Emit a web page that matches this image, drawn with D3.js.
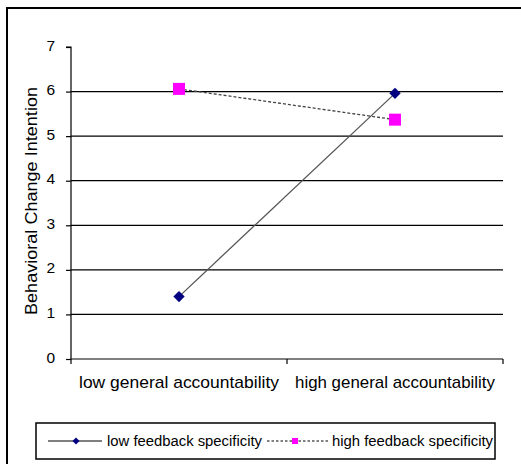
<!DOCTYPE html>
<html><head><meta charset="utf-8">
<script src="https://cdn.jsdelivr.net/npm/d3@7"></script>
<style>body{margin:0;background:#fff}svg{display:block}text{font-family:Arial,"Liberation Sans",sans-serif;fill:#000}</style>
</head><body>
<script>
const categories = ["low general accountability", "high general accountability"];
const seriesNames = ["low feedback specificity", "high feedback specificity"];
const lowFeedback = [1.4, 5.96];
const highFeedback = [6.06, 5.37];
const yTicks = [0, 1, 2, 3, 4, 5, 6, 7];
const yTitle = "Behavioral Change Intention";

const W = 521, H = 464;
const FONT = "Arial, 'Liberation Sans', sans-serif";
const svg = d3.select("body").append("svg").attr("width", W).attr("height", H);

// outer frame (right and bottom edges are outside the picture)
svg.append("rect").attr("x", 7).attr("y", 8).attr("width", 530).attr("height", 480)
  .attr("fill", "none").attr("stroke", "#000").attr("stroke-width", 2);

const pLeft = 71, pRight = 503, pTop = 47, pBottom = 359;
const y = d3.scaleLinear().domain([0, 7]).range([pBottom, pTop]);
const xb = d3.scaleBand().domain(categories).range([pLeft, pRight]);
const xc = d => xb(d) + xb.bandwidth() / 2;

// gridlines
svg.append("g").selectAll("line").data(yTicks.filter(t => t > 0 && t < 7)).join("line")
  .attr("x1", pLeft).attr("x2", pRight).attr("y1", d => y(d)).attr("y2", d => y(d))
  .attr("stroke", "#000").attr("stroke-width", 1.2);

// y axis
const ya = svg.append("g").attr("transform", `translate(${pLeft},0)`)
  .call(d3.axisLeft(y).tickValues(yTicks).tickSize(5).tickPadding(11).tickFormat(d3.format("d")));
ya.select(".domain").attr("stroke", "#000").attr("stroke-width", 1.2).attr("d", `M-5,${pTop}H0V${pBottom}`);
ya.selectAll(".tick line").attr("stroke", "#000").attr("stroke-width", 1.2);
ya.selectAll(".tick text").attr("font-size", 15.5).attr("font-family", FONT).attr("fill", "#000").attr("dy", "0.2em");

// x axis
const xa = svg.append("g").attr("transform", `translate(0,${pBottom})`)
  .call(d3.axisBottom(xb).tickSize(0).tickPadding(0));
xa.select(".domain").remove();
xa.selectAll(".tick text").attr("font-size", 17).attr("font-family", FONT).attr("fill", "#000")
  .attr("dy", null).attr("y", 29).attr("textLength", 200).attr("lengthAdjust", "spacingAndGlyphs");
svg.append("line").attr("x1", pLeft).attr("x2", pRight).attr("y1", pBottom).attr("y2", pBottom)
  .attr("stroke", "#000").attr("stroke-width", 1.2);
const bounds = [pLeft, xb(categories[1]), pRight];
svg.append("g").selectAll("line").data(bounds).join("line")
  .attr("x1", d => d).attr("x2", d => d).attr("y1", pBottom).attr("y2", pBottom + 5)
  .attr("stroke", "#000").attr("stroke-width", 1.2);

// y title
svg.append("text").attr("transform", `translate(37,201) rotate(-90)`)
  .attr("text-anchor", "middle").attr("font-size", 16)
  .attr("textLength", 228).attr("lengthAdjust", "spacingAndGlyphs").text(yTitle);

const line = d3.line().x((d, i) => xc(categories[i])).y(d => y(d));

// series
svg.append("path").datum(lowFeedback).attr("d", line).attr("fill", "none")
  .attr("stroke", "#555").attr("stroke-width", 1.3);
svg.append("path").datum(highFeedback).attr("d", line).attr("fill", "none")
  .attr("stroke", "#444").attr("stroke-width", 1.3).attr("stroke-dasharray", "3,2");

const diamond = d3.symbol().type(d3.symbolSquare).size(64);
svg.append("g").selectAll("path").data(lowFeedback).join("path")
  .attr("d", diamond).attr("transform", (d, i) => `translate(${xc(categories[i])},${y(d)}) rotate(45)`)
  .attr("fill", "#000080");
svg.append("g").selectAll("rect").data(highFeedback).join("rect")
  .attr("x", (d, i) => xc(categories[i]) - 6).attr("y", d => y(d) - 6)
  .attr("width", 12).attr("height", 12).attr("fill", "#ff00ff");

// legend
const lg = svg.append("g");
lg.append("rect").attr("x", 36).attr("y", 423).attr("width", 459).attr("height", 36)
  .attr("fill", "#fff").attr("stroke", "#000").attr("stroke-width", 1.5);
const ly = 441;
lg.append("line").attr("x1", 48).attr("x2", 102).attr("y1", ly).attr("y2", ly).attr("stroke", "#000").attr("stroke-width", 1.2);
lg.append("path").attr("d", d3.symbol().type(d3.symbolSquare).size(25)).attr("transform", `translate(76,${ly}) rotate(45)`).attr("fill", "#000080");
lg.append("text").attr("x", 107).attr("y", ly + 5).attr("font-size", 14)
  .attr("textLength", 155).attr("lengthAdjust", "spacingAndGlyphs").text(seriesNames[0]);
lg.append("line").attr("x1", 267).attr("x2", 328).attr("y1", ly).attr("y2", ly).attr("stroke", "#000").attr("stroke-width", 1).attr("stroke-dasharray", "2.5,2");
lg.append("rect").attr("x", 292).attr("y", ly - 3).attr("width", 6).attr("height", 6).attr("fill", "#ff00ff");
lg.append("text").attr("x", 332).attr("y", ly + 5).attr("font-size", 14)
  .attr("textLength", 161).attr("lengthAdjust", "spacingAndGlyphs").text(seriesNames[1]);
</script>
</body></html>
